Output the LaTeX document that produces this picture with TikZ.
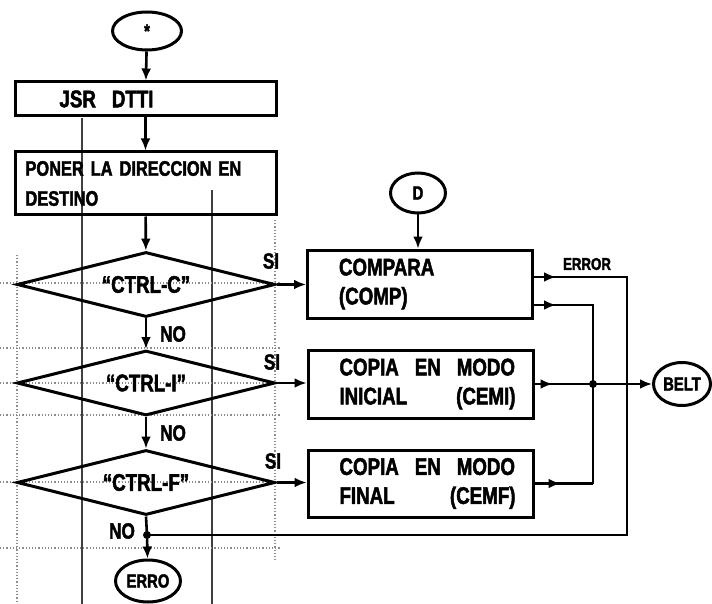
\documentclass[tikz,border=0pt]{standalone}
\usepackage{fontspec}
\setmainfont{Liberation Sans}[FakeStretch=0.78, BoldFeatures={FakeBold=2}]
\usetikzlibrary{positioning,arrows.meta,shapes.geometric,calc,decorations.markings}
\tikzset{
  flow/.style={-{Latex[length=12pt,width=10pt]}, line width=2.6pt, draw=black},
  midflow/.style={line width=2.6pt, draw=black, postaction={decorate},
    decoration={markings, mark=at position #1 with {\arrow{Latex[length=12pt,width=10pt]}}}},
  midflow/.default=0.5,
  every node/.style={anchor=center}
}

\begin{document}
\begin{tikzpicture}[
    x=1pt, y=-1pt,
    font=\fontsize{24}{29}\selectfont\bfseries,
    box/.style={draw, line width=3pt, rectangle, align=left},
    term/.style={draw, line width=3pt, ellipse, inner sep=0pt, font=\fontsize{19}{22}\selectfont\bfseries},
    decide/.style={draw, line width=3pt, diamond, inner sep=0pt, minimum width=258pt, minimum height=65pt},
    lbl/.style={font=\fontsize{22}{24}\selectfont\bfseries},
    gridline/.style={draw=black!45, dotted, line width=1.2pt},
    rule/.style={draw=black!75, line width=1.4pt}
  ]
  \useasboundingbox (0,0) rectangle (712,604);

  % squared paper of the scan
  \draw[rule] (82,118) -- (82,604);
  \draw[rule] (212,190) -- (212,604);
  \draw[gridline] (17,255) -- (17,604);
  \draw[gridline] (275,220) -- (275,560);
  \foreach \gy in {283,348,383,415,482,548}
    \draw[gridline] (0,\gy) -- (280,\gy);

  % main column
  \node[term, minimum width=69pt, minimum height=38pt] (start) at (147,31) {*};
  \node[box, minimum width=261pt, minimum height=34pt, text width=200pt, inner xsep=30pt] (jsr) at (145.5,99) {\hspace*{14pt}JSR \ DTTI};
  \node[box, minimum width=261pt, minimum height=63pt, text width=240pt, inner xsep=10pt, font=\fontsize{21}{30}\selectfont\bfseries] (poner) at (145.5,183.5) {PONER LA DIRECCION EN\\DESTINO};
  \node[decide] (dia1) at (146,284.5) {\makebox[0pt]{``CTRL-C''}};
  \node[decide] (dia2) at (146,383) {\makebox[0pt]{``CTRL-I''}};
  \node[decide] (dia3) at (146,482.5) {\makebox[0pt]{``CTRL-F''}};
  \node[term, minimum width=65pt, minimum height=42pt] (fin) at (148,581) {ERRO};

  % right column
  \node[term, minimum width=55pt, minimum height=40pt] (conD) at (418,193) {D};
  \node[box, minimum width=225pt, minimum height=68pt, text width=190pt, inner xsep=17pt] (comp) at (420,284) {\hspace*{14pt}COMPARA\\\hspace*{14pt}(COMP)};
  \node[box, minimum width=225pt, minimum height=68pt, text width=190pt, inner xsep=17pt] (cemi) at (420.5,384) {\hspace*{14pt}COPIA \ EN \ MODO\\\hspace*{14pt}INICIAL \hfill (CEMI)};
  \node[box, minimum width=225pt, minimum height=67pt, text width=190pt, inner xsep=17pt] (cemf) at (420.5,483.5) {\hspace*{14pt}COPIA \ EN \ MODO\\\hspace*{14pt}FINAL \hfill (CEMF)};
  \node[term, minimum width=57pt, minimum height=43pt] (belt) at (682,384) {BELT};

  % labels
  \node[lbl] at (271,261) {SI};
  \node[lbl] at (272,362) {SI};
  \node[lbl] at (273,461) {SI};
  \node[lbl] at (173,334) {NO};
  \node[lbl] at (173,433) {NO};
  \node[lbl] at (122,531) {NO};
  \node[lbl, font=\fontsize{17}{20}\selectfont\bfseries] at (587,264) {ERROR};

  % main flow
  \draw[flow] (start) -- (jsr);
  \draw[flow] (jsr) -- (poner);
  \draw[flow] (poner) -- (dia1);
  \draw[flow] (dia1) -- (dia2);
  \draw[flow] (dia2) -- (dia3);
  \coordinate (join) at (147,535);
  \draw[line width=2.6pt] (dia3.south) -- (join);
  \draw[flow] (join) -- (fin);
  \fill (join) circle (4pt);

  % branches to the right
  \draw[flow] (dia1.east) -- (comp.west |- dia1.east);
  \draw[flow] (dia2.east) -- (cemi.west |- dia2.east);
  \draw[flow] (dia3.east) -- (cemf.west |- dia3.east);
  \draw[flow] (conD) -- (conD |- comp.north);

  % outputs
  \coordinate (errR) at (627,277);
  \coordinate (errD) at (627,535);
  \coordinate (busR) at (593,305);
  \draw[midflow=22pt] (comp.east |- errR) -- (errR) -- (errD) -- (join);
  \draw[midflow=22pt] (comp.east |- busR) -- (busR) -- (busR |- cemf.east);
  \draw[midflow=26pt] (cemf.east) -- (busR |- cemf.east);
  \draw[flow, midflow=18pt] (cemi.east) -- (belt.west);
  \fill (busR |- cemi.east) circle (4pt);

\end{tikzpicture}
\end{document}
